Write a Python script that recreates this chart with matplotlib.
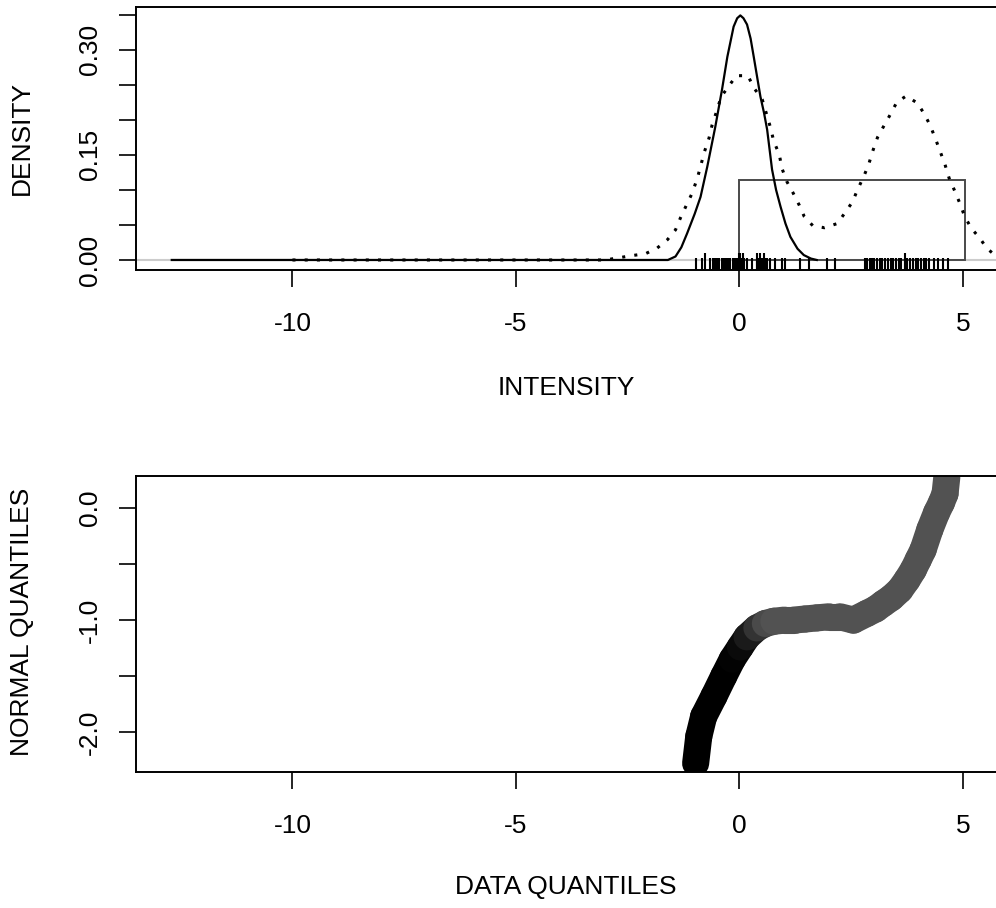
import numpy as np
import matplotlib
matplotlib.use("Agg")
import matplotlib.pyplot as plt
from matplotlib.collections import LineCollection
from matplotlib.patches import Rectangle

plt.rcParams["font.family"] = ["Liberation Sans", "DejaVu Sans"]

# solid density curve
solid_x = [-12.7, -3.0, -1.6, -1.43, -1.3, -1.17, -1.0, -0.87, -0.72, -0.54, -0.39, -0.27,
           -0.13, -0.05, 0.02, 0.09, 0.17, 0.25, 0.32, 0.47, 0.55, 0.62, 0.73, 0.82, 0.92,
           1.03, 1.14, 1.3, 1.44, 1.6, 1.73]
solid_y = [0.0, 0.0, 0.0, 0.005, 0.018, 0.038, 0.066, 0.09, 0.133, 0.19, 0.243, 0.29,
           0.333, 0.345, 0.349, 0.345, 0.336, 0.316, 0.29, 0.233, 0.21, 0.186, 0.129, 0.1,
           0.076, 0.052, 0.033, 0.016, 0.007, 0.002, 0.0]

# dotted (bimodal) density curve
dot_x = [-10.0, -3.0, -2.43, -2.1, -1.84, -1.61, -1.43, -1.32, -1.18, -1.06, -0.94, -0.78,
         -0.68, -0.61, -0.5, -0.41, -0.25, -0.07, 0.19, 0.33, 0.51, 0.69, 0.77, 0.89, 0.95,
         1.06, 1.19, 1.34, 1.45, 1.64, 1.9, 2.19, 2.38, 2.53, 2.64, 2.78, 2.89, 2.98, 3.09,
         3.22, 3.37, 3.52, 3.73, 3.98, 4.13, 4.26, 4.38, 4.49, 4.6, 4.69, 4.82, 4.93, 5.04,
         5.19, 5.38, 5.53, 5.75]
dot_y = [0.0, 0.0, 0.006, 0.009, 0.017, 0.029, 0.043, 0.06, 0.079, 0.095, 0.117, 0.155,
         0.174, 0.193, 0.214, 0.233, 0.247, 0.263, 0.263, 0.245, 0.229, 0.19, 0.169, 0.151,
         0.131, 0.112, 0.097, 0.078, 0.062, 0.049, 0.046, 0.052, 0.069, 0.083, 0.1, 0.119,
         0.136, 0.155, 0.175, 0.19, 0.207, 0.225, 0.234, 0.224, 0.209, 0.193, 0.174, 0.155,
         0.136, 0.117, 0.098, 0.081, 0.062, 0.045, 0.031, 0.017, 0.005]

# uniform box
box_x0, box_x1, box_h = 0.0, 5.05, 0.114

# rug of observations
rug_x = [-0.98, -0.83, -0.65, -0.6, -0.55, -0.5, -0.45, -0.4, -0.35, -0.3, -0.25, -0.2,
         -0.15, -0.1, -0.05, 0.0, 0.05, 0.1, 0.17, 0.28, 0.39, 0.43, 0.47, 0.51, 0.54, 0.58,
         0.62, 0.69, 0.8, 0.95, 1.03, 1.36, 1.55, 1.96, 2.14, 2.81, 2.86, 2.91, 2.96, 3.02,
         3.08, 3.14, 3.2, 3.26, 3.32, 3.38, 3.44, 3.5, 3.56, 3.62, 3.7, 3.76, 3.82, 3.88,
         3.94, 4.0, 4.06, 4.12, 4.18, 4.25, 4.35, 4.45, 4.55, 4.67]
rug_tall = [-0.78, -0.02, 0.02, 0.07, 0.39, 0.47, 0.54, 3.7]

# qq plot: data quantiles vs normal quantiles, shade 0 = black, 0.32 = grey
qq_x = [-0.98, -0.91, -0.8, -0.57, -0.35, -0.16, 0.02, 0.17, 0.39, 0.58, 0.77, 1.0, 1.21,
        1.47, 1.73, 2.0, 2.25, 2.55, 2.85, 3.05, 3.22, 3.4, 3.59, 3.75, 3.89, 4.0, 4.11,
        4.26, 4.41, 4.52, 4.6, 4.64]
qq_y = [-2.28, -2.04, -1.86, -1.68, -1.5, -1.35, -1.24, -1.15, -1.07, -1.03, -1.01, -1.0,
        -1.0, -0.99, -0.98, -0.97, -0.97, -1.0, -0.94, -0.9, -0.85, -0.8, -0.73, -0.64,
        -0.55, -0.46, -0.37, -0.19, -0.04, 0.05, 0.13, 0.28]
qq_shade = [0.0, 0.0, 0.0, 0.0, 0.0, 0.0, 0.02, 0.06, 0.14, 0.26, 0.32, 0.32, 0.32, 0.32,
            0.32, 0.32, 0.32, 0.32, 0.32, 0.32, 0.32, 0.32, 0.32, 0.32, 0.32, 0.32, 0.32,
            0.32, 0.32, 0.32, 0.32, 0.32]

xticks = [-10, -5, 0, 5]
xticklabels = ["-10", "-5", "0", "5"]

W, H = 996, 908
fig = plt.figure(figsize=(W / 100, H / 100), dpi=100)
fs = 19


def style_axes(ax):
    ax.spines["right"].set_visible(False)
    for s in ["left", "top", "bottom"]:
        ax.spines[s].set_linewidth(1.4)
    ax.tick_params(axis="both", direction="out", length=12.5, width=1.2, labelsize=fs)
    ax.tick_params(axis="x", pad=18)
    ax.tick_params(axis="y", pad=12, labelrotation=90)
    for lab in ax.get_yticklabels():
        lab.set_verticalalignment("center")
    ax.set_xlim(-13.5, 5.74)
    ax.set_xticks(xticks)
    ax.set_xticklabels(xticklabels)


# ---- top panel: densities
ax1 = fig.add_axes([136 / W, 1 - 270 / H, 1 - 136 / W, 263 / H])
ax1.axhline(0, color="#cccccc", lw=1.5, zorder=1)
ax1.plot(solid_x, solid_y, color="black", lw=1.6, zorder=3)
ax1.plot(dot_x, dot_y, color="black", lw=2.2, linestyle=(0, (1, 3)), zorder=3)
ax1.add_patch(Rectangle((box_x0, 0), box_x1 - box_x0, box_h, fill=False,
                        edgecolor="#4a4a4a", lw=1.4, zorder=2))
trans = ax1.get_xaxis_transform()
ax1.vlines(rug_x, 0, 0.046, color="black", lw=1.5, transform=trans, zorder=4)
ax1.vlines(rug_tall, 0, 0.065, color="black", lw=1.5, transform=trans, zorder=4)
ax1.set_ylim(-0.0143, 0.361)
ax1.set_yticks(np.arange(0, 0.351, 0.05))
ax1.set_yticklabels(["0.00", "", "", "0.15", "", "", "0.30", ""])
style_axes(ax1)

# ---- bottom panel: qq plot
ax2 = fig.add_axes([136 / W, 1 - 772 / H, 1 - 136 / W, 296 / H])
pts = np.column_stack([qq_x, qq_y])
segs = [pts[i:i + 2] for i in range(len(pts) - 1)]
cols = [str(0.5 * (qq_shade[i] + qq_shade[i + 1])) for i in range(len(pts) - 1)]
lc = LineCollection(segs, colors=cols, linewidths=19.5, capstyle="round", joinstyle="round")
ax2.add_collection(lc)
ax2.set_ylim(-2.357, 0.288)
ax2.set_yticks([-2.0, -1.5, -1.0, -0.5, 0.0])
ax2.set_yticklabels(["-2.0", "", "-1.0", "", "0.0"])
style_axes(ax2)

# axis titles
fig.text(566 / W, 1 - 388 / H, "INTENSITY", ha="center", va="center", fontsize=fs)
fig.text(566 / W, 1 - 887 / H, "DATA QUANTILES", ha="center", va="center", fontsize=fs)
fig.text(22 / W, 1 - 138 / H, "DENSITY", ha="center", va="center", rotation=90, fontsize=fs)
fig.text(22 / W, 1 - 622 / H, "NORMAL QUANTILES", ha="center", va="center", rotation=90,
         fontsize=fs)

fig.savefig("out.png", dpi=100)
